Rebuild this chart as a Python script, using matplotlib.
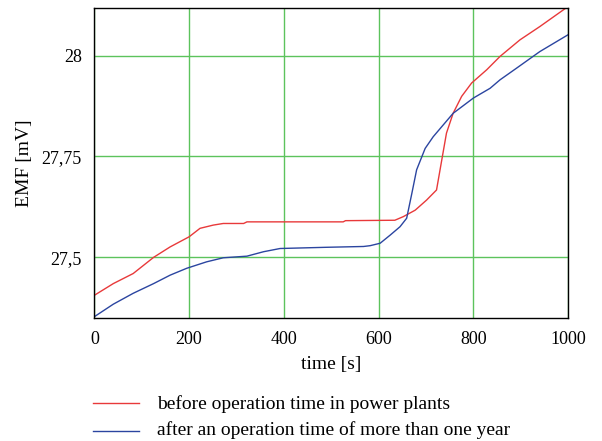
import matplotlib
matplotlib.use("Agg")
import matplotlib.pyplot as plt

plt.rcParams['font.family'] = ['Liberation Serif', 'DejaVu Serif']

# EMF recordings (time in s, EMF in mV)
t_before = [0, 40, 82, 125, 160, 200, 223, 251, 272, 315, 322, 525, 530, 634, 652, 677,
            701, 722, 733, 743, 757, 775, 796, 828, 856, 898, 940, 1000]
emf_before = [27.406, 27.435, 27.460, 27.500, 27.526, 27.551, 27.572, 27.580, 27.584,
              27.584, 27.588, 27.588, 27.591, 27.592, 27.601, 27.617, 27.642, 27.667,
              27.741, 27.808, 27.857, 27.899, 27.932, 27.965, 27.998, 28.039, 28.072, 28.122]

t_after = [0, 40, 82, 125, 160, 195, 237, 272, 322, 357, 392, 490, 568, 582, 603, 624,
           645, 659, 670, 680, 698, 715, 736, 757, 800, 835, 856, 891, 940, 1000]
emf_after = [27.353, 27.384, 27.411, 27.435, 27.456, 27.473, 27.489, 27.499, 27.503,
             27.514, 27.522, 27.525, 27.527, 27.529, 27.535, 27.555, 27.576, 27.597,
             27.659, 27.717, 27.770, 27.799, 27.828, 27.857, 27.895, 27.919, 27.940,
             27.969, 28.010, 28.052]

x_ticks = [0, 200, 400, 600, 800, 1000]
y_ticks = [27.5, 27.75, 28.0]
y_tick_labels = ['27,5', '27,75', '28']
labels = ['before operation time in power plants',
          'after an operation time of more than one year']

fig = plt.figure(figsize=(6.02, 4.41), dpi=100)
ax = fig.add_axes([0.1567, 0.2782, 0.7873, 0.7037])

ax.plot(t_before, emf_before, color='#e8393a', lw=1.0)
ax.plot(t_after, emf_after, color='#2b45a0', lw=1.0)

ax.set_xlim(0, 1000)
ax.set_ylim(27.349, 28.118)
ax.set_xticks(x_ticks)
ax.set_yticks(y_ticks)
ax.set_yticklabels(y_tick_labels)
ax.tick_params(length=0, labelsize=13)
ax.tick_params(axis='x', pad=9)
ax.tick_params(axis='y', pad=9)
ax.grid(True, color='#5cc35c', lw=1.0)
ax.set_axisbelow(True)
for s in ax.spines.values():
    s.set_color('black')
    s.set_linewidth(1.0)

ax.set_xlabel('time [s]', fontsize=14, labelpad=6)
ax.set_ylabel('EMF [mV]', fontsize=14, labelpad=6)

# legend drawn beneath the axes
fig.lines.append(plt.Line2D([93/602, 139/602], [1 - 402.7/441] * 2,
                            color='#e8393a', lw=1.0, transform=fig.transFigure))
fig.lines.append(plt.Line2D([93/602, 139/602], [1 - 430.7/441] * 2,
                            color='#2b45a0', lw=1.0, transform=fig.transFigure))
fig.text(156.7/602, 1 - 404/441, labels[0], fontsize=14, va='center', ha='left')
fig.text(156.7/602, 1 - 430/441, labels[1], fontsize=14, va='center', ha='left')

fig.savefig('out.png', dpi=100)
